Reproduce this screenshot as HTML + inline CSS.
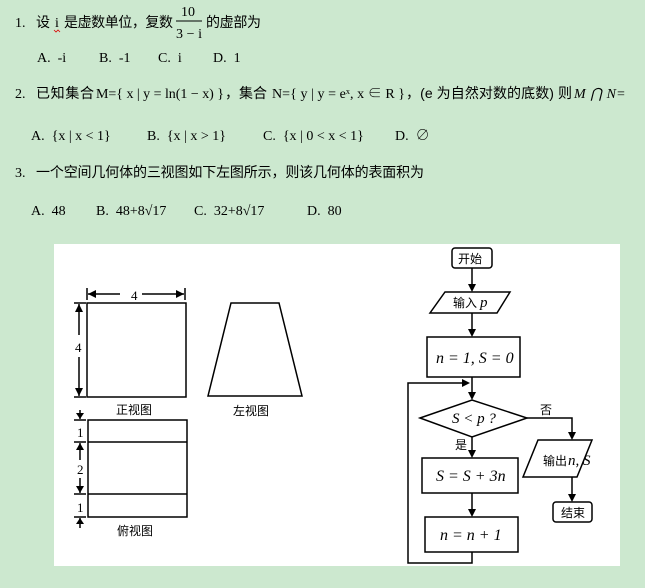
<!DOCTYPE html>
<html><head><meta charset="utf-8"><style>
html,body{margin:0;padding:0;background:#cce8cf;}
svg{display:block}
text{font-family:"Liberation Serif","Noto Serif CJK SC","Noto Sans CJK SC",serif;fill:#000}
.c{font-family:"Liberation Sans","Noto Sans CJK SC",sans-serif}
</style></head><body>
<svg width="645" height="588" viewBox="0 0 645 588" xmlns="http://www.w3.org/2000/svg">
<rect width="645" height="588" fill="#cce8cf"/>
<!-- Q1 -->
<text x="15" y="27" font-size="14">1.</text>
<text class="c" x="36" y="27" font-size="14">设</text>
<text x="55" y="27" font-size="14">i</text>
<path d="M54 30 l2 2 l2 -2 l2 2" stroke="#d00" fill="none" stroke-width="0.8"/>
<text class="c" x="64" y="27" font-size="14" textLength="109">是虚数单位，复数</text>
<text x="181" y="16" font-size="14">10</text>
<line x1="176" y1="21" x2="202" y2="21" stroke="#000" stroke-width="1"/>
<text x="176" y="38" font-size="14" textLength="26">3 − i</text>
<text class="c" x="206" y="27" font-size="14" textLength="55">的虚部为</text>
<text x="37" y="62" font-size="14" xml:space="preserve">A.  -i</text>
<text x="99" y="62" font-size="14" xml:space="preserve">B.  -1</text>
<text x="158" y="62" font-size="14" xml:space="preserve">C.  i</text>
<text x="213" y="62" font-size="14" xml:space="preserve">D.  1</text>
<!-- Q2 -->
<text x="15" y="98" font-size="14">2.</text>
<text class="c" x="36" y="98" font-size="14" textLength="58">已知集合</text>
<text x="96" y="98" font-size="14" textLength="128">M={ x | y = ln(1 − x) }</text>
<text class="c" x="225" y="98" font-size="14" textLength="42">，集合</text>
<text x="272" y="98" font-size="14" textLength="133">N={ y | y = eˣ, x ∈ R }</text>
<text class="c" x="406" y="98" font-size="14" textLength="166">，(e 为自然对数的底数) 则</text>
<text x="574" y="98" font-size="14" font-style="italic" textLength="42">M ⋂ N</text>
<text x="617" y="98" font-size="14">=</text>
<text x="31" y="140" font-size="14" xml:space="preserve">A.  {x | x &lt; 1}</text>
<text x="147" y="140" font-size="14" xml:space="preserve">B.  {x | x &gt; 1}</text>
<text x="263" y="140" font-size="14" xml:space="preserve">C.  {x | 0 &lt; x &lt; 1}</text>
<text x="395" y="140" font-size="14" xml:space="preserve">D.  ∅</text>
<!-- Q3 -->
<text x="15" y="177" font-size="14">3.</text>
<text class="c" x="36" y="177" font-size="14" textLength="388">一个空间几何体的三视图如下左图所示，则该几何体的表面积为</text>
<text x="31" y="215" font-size="14" xml:space="preserve">A.  48</text>
<text x="96" y="215" font-size="14" xml:space="preserve">B.  48+8√17</text>
<text x="194" y="215" font-size="14" xml:space="preserve">C.  32+8√17</text>
<text x="307" y="215" font-size="14" xml:space="preserve">D.  80</text>
<!-- picture area -->
<rect x="54" y="244" width="566" height="322" fill="#fff"/>
<g stroke="#000" stroke-width="1.5" fill="none">
<rect x="87" y="303" width="99" height="94"/>
<line x1="87" y1="288" x2="87" y2="300"/><line x1="185" y1="288" x2="185" y2="300"/>
<line x1="88" y1="294" x2="120" y2="294"/><line x1="142" y1="294" x2="184" y2="294"/>
<line x1="74" y1="303" x2="86" y2="303"/><line x1="74" y1="397" x2="86" y2="397"/>
<line x1="79" y1="304" x2="79" y2="335"/><line x1="79" y1="357" x2="79" y2="396"/>
<polygon points="231,303 279,303 302,396 208,396"/>
<rect x="88" y="420" width="99" height="97"/>
<line x1="88" y1="442" x2="187" y2="442"/><line x1="88" y1="494" x2="187" y2="494"/>
<line x1="74" y1="420" x2="86" y2="420"/><line x1="74" y1="442" x2="86" y2="442"/>
<line x1="74" y1="494" x2="86" y2="494"/><line x1="74" y1="517" x2="86" y2="517"/>
<line x1="80" y1="443" x2="80" y2="460"/><line x1="80" y1="478" x2="80" y2="493"/>
<line x1="80" y1="410" x2="80" y2="419"/><line x1="80" y1="518" x2="80" y2="528"/>
</g>
<g fill="#000">
<polygon points="88,294 96,290 96,298"/><polygon points="184,294 176,290 176,298"/>
<polygon points="79,304 75,312 83,312"/><polygon points="79,396 75,388 83,388"/>
<polygon points="80,419 76,413 84,413"/><polygon points="80,443 76,450 84,450"/>
<polygon points="80,493 76,486 84,486"/><polygon points="80,518 76,524 84,524"/>
</g>
<text x="131" y="300" font-size="13">4</text>
<text x="75" y="352" font-size="13">4</text>
<text x="77" y="437" font-size="13">1</text>
<text x="77" y="474" font-size="13">2</text>
<text x="77" y="512" font-size="13">1</text>
<text class="c" x="116" y="414" font-size="12">正视图</text>
<text class="c" x="233" y="415" font-size="12">左视图</text>
<text class="c" x="117" y="535" font-size="12">俯视图</text>
<!-- flowchart -->
<g stroke="#000" stroke-width="1.5" fill="none">
<rect x="452" y="248" width="40" height="20" rx="3"/>
<line x1="472" y1="268" x2="472" y2="288"/>
<polygon points="445,292 510,292 497,313 430,313"/>
<line x1="472" y1="313" x2="472" y2="333"/>
<rect x="427" y="337" width="93" height="40"/>
<line x1="472" y1="377" x2="472" y2="396"/>
<polygon points="420,418 472,400 527,418 472,437"/>
<polyline points="527,418 572,418 572,436"/>
<polygon points="538,440 592,440 577,477 523,477"/>
<line x1="572" y1="477" x2="572" y2="498"/>
<rect x="553" y="502" width="39" height="20" rx="3"/>
<line x1="472" y1="437" x2="472" y2="454"/>
<rect x="422" y="458" width="96" height="35"/>
<line x1="472" y1="493" x2="472" y2="513"/>
<rect x="425" y="517" width="93" height="35"/>
<polyline points="472,552 472,563 408,563 408,383 466,383"/>
</g>
<g fill="#000">
<polygon points="472,292 468,284 476,284"/><polygon points="472,337 468,329 476,329"/>
<polygon points="472,400 468,392 476,392"/><polygon points="572,440 568,432 576,432"/>
<polygon points="572,502 568,494 576,494"/><polygon points="472,458 468,450 476,450"/>
<polygon points="472,517 468,509 476,509"/><polygon points="470,383 462,379 462,387"/>
</g>
<text class="c" x="458" y="263" font-size="12">开始</text>
<text class="c" x="453" y="307" font-size="12">输入</text><text x="480" y="307" font-size="15" font-style="italic">p</text>
<text x="436" y="363" font-size="16" font-style="italic">n = 1, S = 0</text>
<text x="452" y="423" font-size="15" font-style="italic">S &lt; p ?</text>
<text class="c" x="540" y="414" font-size="12">否</text>
<text class="c" x="455" y="449" font-size="12">是</text>
<text x="436" y="481" font-size="16" font-style="italic">S = S + 3n</text>
<text x="440" y="540" font-size="16" font-style="italic">n = n + 1</text>
<text class="c" x="543" y="465" font-size="12">输出</text><text x="568" y="465" font-size="15" font-style="italic">n, S</text>
<text class="c" x="561" y="517" font-size="12">结束</text>
</svg>
</body></html>
